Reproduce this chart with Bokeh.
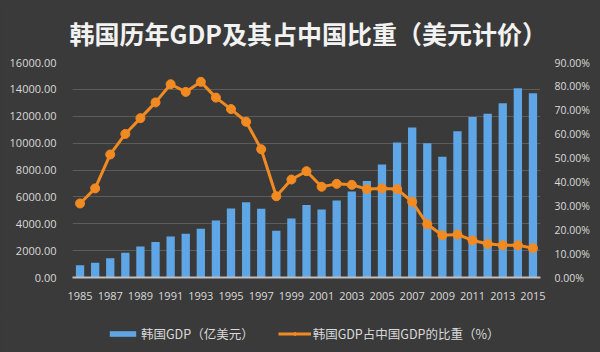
from bokeh.plotting import figure
from bokeh.layouts import column
from bokeh.models import (Range1d, LinearAxis, FixedTicker, NumeralTickFormatter,
                          PrintfTickFormatter, Legend, LegendItem, ColumnDataSource, Title)
from bokeh.embed import file_html
from bokeh.resources import INLINE

years = list(range(1985, 2016))
gdp = [920, 1090, 1440, 1840, 2310, 2650, 3050, 3250, 3620, 4240, 5130, 5600, 5110,
       3470, 4390, 5400, 5060, 5730, 6400, 7190, 8410, 10040, 11160, 9990, 8980,
       10890, 11950, 12180, 12970, 14090, 13720]
ratio = [31.0, 37.3, 51.5, 60.1, 66.7, 73.3, 80.9, 77.7, 81.9, 75.3, 70.5, 65.2, 53.7,
         34.0, 41.0, 44.5, 38.0, 39.2, 38.8, 37.0, 37.3, 37.0, 31.7, 22.3, 17.7,
         18.0, 15.5, 14.1, 13.5, 13.5, 12.3]
title_text = "韩国历年GDP及其占中国比重（美元计价）"
bar_label = "韩国GDP（亿美元）"
line_label = "韩国GDP占中国GDP的比重（%）"

BG = "#3a3a3a"
TXT = "#d9d9d9"
BLUE = "#5ea6e6"
ORANGE = "#f28a22"
NUM_FONT = "Open Sans"
CJK = "Noto Sans CJK SC"

src = ColumnDataSource(dict(year=years, gdp=gdp, ratio=ratio))

p = figure(width=600, height=318, output_backend="svg", toolbar_location=None,
           x_range=Range1d(1984.5, 2015.5), y_range=Range1d(0, 16000),
           min_border_left=72, min_border_right=60, min_border_top=62, min_border_bottom=41,
           background_fill_color=BG, border_fill_color=BG, outline_line_color=None)
p.extra_y_ranges = {"pct": Range1d(0, 90)}

# small spacer nearest the frame pushes the title up
p.add_layout(Title(text=" ", text_font_size="1px", text_color=BG, standoff=4), "above")
p.add_layout(Title(text=title_text, align="left", offset=-3, text_font=CJK,
                   text_font_size="25px", text_font_style="bold", text_color="#f2f2f2"),
             "above")

p.vbar(x="year", top="gdp", width=0.55, source=src, fill_color=BLUE, line_color=None)
p.line(x="year", y="ratio", source=src, y_range_name="pct", line_color=ORANGE, line_width=3)
p.scatter(x="year", y="ratio", source=src, y_range_name="pct", size=9,
          fill_color=ORANGE, line_color=ORANGE)

p.xaxis.ticker = FixedTicker(ticks=list(range(1985, 2016, 2)))
p.xaxis.axis_line_color = "#bfbfbf"
p.xaxis.axis_line_width = 2
p.xaxis.major_tick_line_color = None
p.xaxis.minor_tick_line_color = None
p.xaxis.major_label_text_font = NUM_FONT
p.xaxis.major_label_text_font_size = "11px"
p.xaxis.major_label_text_color = TXT
p.xaxis.major_label_standoff = 8

p.yaxis.ticker = FixedTicker(ticks=list(range(0, 16001, 2000)))
p.yaxis.formatter = NumeralTickFormatter(format="0.00")
p.yaxis.axis_line_color = None
p.yaxis.major_tick_line_color = None
p.yaxis.minor_tick_line_color = None
p.yaxis.major_label_text_font = NUM_FONT
p.yaxis.major_label_text_font_size = "11px"
p.yaxis.major_label_text_color = TXT
p.yaxis.major_label_standoff = 10

ra = LinearAxis(y_range_name="pct", ticker=FixedTicker(ticks=list(range(0, 91, 10))),
                formatter=PrintfTickFormatter(format="%.2f%%"))
ra.axis_line_color = None
ra.major_tick_line_color = None
ra.minor_tick_line_color = None
ra.major_label_text_font = NUM_FONT
ra.major_label_text_font_size = "10.5px"
ra.major_label_text_color = TXT
ra.major_label_standoff = 8
p.add_layout(ra, "right")

p.xgrid.grid_line_color = None
p.ygrid.grid_line_color = "#5c5c5c"
p.ygrid.grid_line_width = 1

# legend strip: hidden renderers supply only the legend glyphs
lg = figure(width=600, height=34, output_backend="svg", toolbar_location=None,
            x_range=Range1d(1984.5, 2015.5), y_range=Range1d(0, 16000),
            x_axis_type=None, y_axis_type=None,
            min_border_left=72, min_border_right=60, min_border_top=0, min_border_bottom=0,
            background_fill_color=BG, border_fill_color=BG,
            outline_line_color=None, outline_line_alpha=0,
            styles={"background-color": BG})
lb = lg.vbar(x="year", top="gdp", width=0.55, source=src, fill_color=BLUE, line_color=None,
             visible=False)
ll = lg.line(x="year", y="ratio", source=src, line_color=ORANGE, line_width=3, visible=False)
lm = lg.scatter(x="year", y="ratio", source=src, size=9, fill_color=ORANGE,
                line_color=ORANGE, visible=False)

legend = Legend(items=[LegendItem(label=bar_label, renderers=[lb]),
                       LegendItem(label=line_label, renderers=[ll, lm])],
                orientation="horizontal", location=(34, 9),
                background_fill_alpha=0, border_line_color=None,
                label_text_font=CJK, label_text_font_size="12.5px", label_text_color=TXT,
                glyph_width=33, glyph_height=7, spacing=24, label_standoff=2,
                padding=0, margin=0, click_policy="none")
lg.add_layout(legend, "center")

layout = column(p, lg, spacing=0, styles={"background-color": BG})
open("out.html", "w").write(file_html(layout, INLINE))
